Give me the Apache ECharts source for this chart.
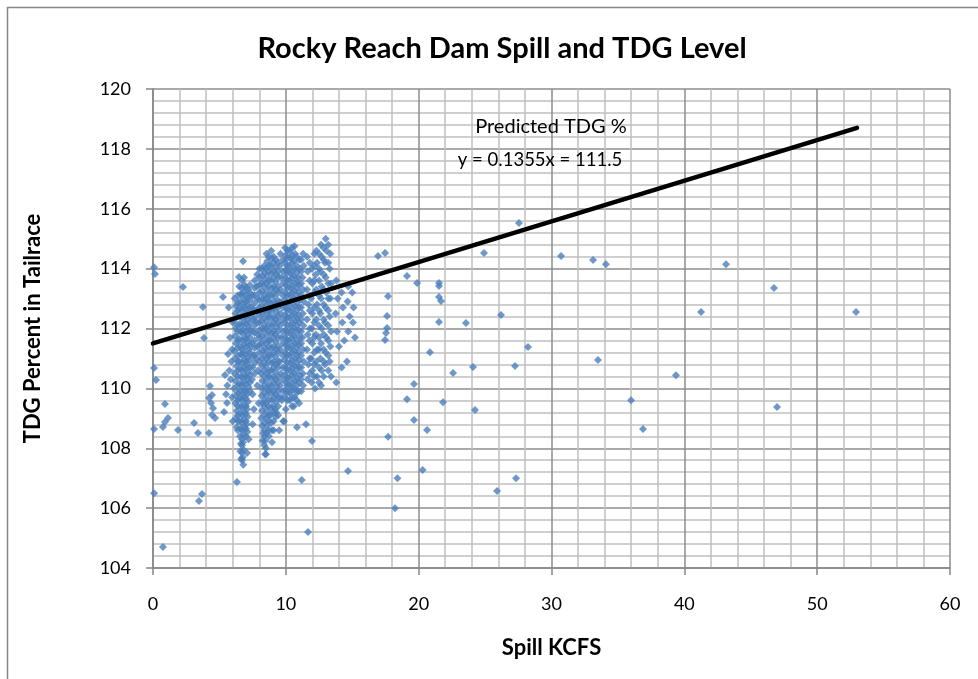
<!DOCTYPE html>
<html>
<head>
<meta charset="utf-8">
<script src="https://cdn.jsdelivr.net/npm/echarts@6/dist/echarts.min.js"></script>
<style>
html,body{margin:0;padding:0;background:#fff;}
#chart{width:978px;height:679px;}
</style>
</head>
<body>
<div id="chart"></div>
<script>
// ---- Data (Spill KCFS, TDG %) ----
const isolatedPoints = [
  [0.08,114.05],[0.15,113.82],[2.26,113.39],[3.76,112.72],[3.84,111.68],[5.27,113.05],[6.78,114.25],[6.47,113.72],[7.0,113.35],
  [0.08,110.68],[0.23,110.28],[0.9,109.48],[0.08,108.64],[0.75,108.71],[1.13,109.01],[0.9,108.88],[1.88,108.61],
  [3.09,108.84],[3.39,108.51],[4.22,108.51],[4.29,110.08],[4.44,109.78],[4.22,109.68],[4.37,109.51],[4.52,109.34],
  [4.44,109.11],[4.67,109.01],[5.42,110.45],[5.35,109.21],[5.57,109.51],[5.65,111.15],[6.32,106.87],[7.08,107.84],
  [0.08,106.5],[0.75,104.7],[3.69,106.47],[3.46,106.24],[11.2,106.94],[11.67,105.2],[14.68,107.24],
  [8.5,107.8],[8.96,108.2],[9.26,109.2],[9.5,108.6],[9.86,108.9],[10.84,108.7],[11.52,108.8],[11.97,108.24],
  [16.94,114.42],[17.47,114.52],[19.12,113.75],[19.88,113.52],[21.53,113.52],[21.53,113.42],[21.53,113.05],[21.68,112.92],
  [21.53,112.22],[23.56,112.18],[17.69,113.08],[17.62,112.42],[17.62,112.02],[17.54,111.85],[17.47,111.62],
  [20.85,111.21],[22.59,110.51],[24.09,110.71],[19.65,110.15],[19.12,109.64],[21.83,109.54],[24.24,109.28],
  [19.65,108.94],[20.63,108.61],[17.7,108.38],[20.3,107.27],[18.4,107.0],[18.22,106.0],
  [27.55,115.52],[24.92,114.52],[30.72,114.42],[33.13,114.29],[34.1,114.15],[43.14,114.15],[46.75,113.35],
  [41.26,112.55],[52.93,112.55],[26.2,112.45],[28.23,111.38],[33.5,110.95],[27.25,110.75],[39.37,110.44],
  [35.99,109.6],[36.89,108.64],[46.98,109.38],[27.33,107.0],[25.9,106.57]
];
const clusterNear7 = [
  [6.15,113.0],[6.25,112.75],[6.2,112.5],[6.1,112.25],[6.22,112.0],[6.18,111.75],[6.25,111.5],[6.12,111.25],[6.2,111.0],
  [6.28,110.75],[6.15,110.5],[6.22,110.25],[6.1,110.0],[6.25,109.75],[6.2,109.5],[6.3,109.25],[6.25,109.0],[6.3,108.7],
  [6.5,113.4],[6.6,113.15],[6.55,112.9],[6.5,112.65],[6.58,112.4],[6.52,112.15],[6.6,111.9],[6.5,111.65],[6.55,111.4],
  [6.62,111.15],[6.5,110.9],[6.56,110.65],[6.6,110.4],[6.52,110.15],[6.58,109.9],[6.5,109.65],[6.6,109.4],[6.55,109.15],
  [6.5,108.9],[6.6,108.65],[6.55,108.4],[6.62,108.15],[6.58,107.9],[6.65,107.65],
  [6.85,113.7],[6.9,113.45],[6.8,113.2],[6.88,112.95],[6.82,112.7],[6.9,112.45],[6.85,112.2],[6.8,111.95],[6.92,111.7],
  [6.85,111.45],[6.8,111.2],[6.88,110.95],[6.84,110.7],[6.9,110.45],[6.8,110.2],[6.86,109.95],[6.82,109.7],[6.9,109.45],
  [6.85,109.2],[6.8,108.95],[6.88,108.7],[6.82,108.45],[6.78,108.2],[6.82,107.95],[6.75,107.7],[6.8,107.45],
  [7.15,113.3],[7.2,113.05],[7.1,112.8],[7.18,112.55],[7.12,112.3],[7.2,112.05],[7.15,111.8],[7.1,111.55],[7.22,111.3],
  [7.15,111.05],[7.1,110.8],[7.18,110.55],[7.12,110.3],[7.2,110.05],[7.1,109.8],[7.15,109.55],[7.08,109.3],[7.12,109.05],
  [7.05,108.8],[7.1,108.55],[7.2,108.3],
  [5.9,110.9],[5.75,110.6],[5.85,110.3],[5.95,111.3],[5.8,111.7],[6.0,112.2],[5.95,109.7],[5.7,112.7],[6.0,108.9],
  [5.6,110.1],[5.5,109.8],
  [7.5,113.1],[7.45,112.7],[7.55,112.3],[7.5,111.9],[7.45,111.5],[7.55,111.1],[7.5,110.7],[7.45,110.3],[7.5,109.8],
  [7.6,109.3],[7.5,108.8],
  [7.85,113.8],[7.8,113.4],[7.9,113.0],[7.85,112.6],[7.8,112.2],[7.9,111.8],[7.85,111.4],[7.8,111.0],[7.9,110.6],
  [7.85,110.1],[7.95,109.5]
];
const clusterNear9 = [
  [8.2,114.0],[8.25,113.75],[8.15,113.5],[8.2,113.25],[8.28,113.0],[8.18,112.75],[8.22,112.5],[8.15,112.25],[8.25,112.0],
  [8.2,111.75],[8.15,111.5],[8.28,111.25],[8.2,111.0],[8.22,110.75],[8.15,110.5],[8.25,110.25],[8.2,110.0],[8.18,109.75],
  [8.25,109.5],[8.2,109.25],[8.15,109.0],[8.22,108.75],[8.3,108.5],[8.25,108.25],
  [8.55,114.5],[8.6,114.25],[8.5,114.0],[8.58,113.75],[8.52,113.5],[8.6,113.25],[8.55,113.0],[8.5,112.75],[8.62,112.5],
  [8.55,112.25],[8.5,112.0],[8.58,111.75],[8.52,111.5],[8.6,111.25],[8.55,111.0],[8.5,110.75],[8.58,110.5],[8.52,110.25],
  [8.6,110.0],[8.55,109.75],[8.5,109.5],[8.58,109.25],[8.52,109.0],[8.6,108.75],[8.55,108.5],[8.45,108.25],[8.5,108.0],
  [8.45,107.8],
  [8.9,114.6],[8.95,114.35],[8.85,114.1],[8.92,113.85],[8.88,113.6],[8.95,113.35],[8.9,113.1],[8.85,112.85],[8.92,112.6],
  [8.88,112.35],[8.95,112.1],[8.9,111.85],[8.85,111.6],[8.92,111.35],[8.88,111.1],[8.95,110.85],[8.9,110.6],[8.85,110.35],
  [8.92,110.1],[8.88,109.85],[8.95,109.6],[8.9,109.35],[8.85,109.1],[8.9,108.85],[8.95,108.6],
  [9.25,114.3],[9.2,114.05],[9.3,113.8],[9.22,113.55],[9.28,113.3],[9.2,113.05],[9.25,112.8],[9.3,112.55],[9.22,112.3],
  [9.28,112.05],[9.2,111.8],[9.25,111.55],[9.3,111.3],[9.22,111.05],[9.28,110.8],[9.2,110.55],[9.25,110.3],[9.3,110.05],
  [9.22,109.8],[9.28,109.55],[9.2,109.3],[9.25,109.05],
  [9.6,114.5],[9.55,114.1],[9.65,113.7],[9.6,113.3],[9.55,112.9],[9.62,112.5],[9.58,112.1],[9.65,111.7],[9.6,111.3],
  [9.55,110.9],[9.62,110.5],[9.58,110.1],[9.6,109.7],[9.7,109.6],[9.8,108.9],[10.0,109.3]
];
const clusterNear11 = [
  [9.95,114.7],[10.0,114.45],[9.9,114.2],[9.98,113.95],[9.92,113.7],[10.0,113.45],[9.95,113.2],[9.9,112.95],[10.02,112.7],
  [9.95,112.45],[9.9,112.2],[9.98,111.95],[9.92,111.7],[10.0,111.45],[9.95,111.2],[9.9,110.95],[9.98,110.7],[9.92,110.45],
  [10.0,110.2],[9.95,109.95],[9.9,109.7],
  [10.3,114.6],[10.35,114.35],[10.25,114.1],[10.32,113.85],[10.28,113.6],[10.35,113.35],[10.3,113.1],[10.25,112.85],
  [10.32,112.6],[10.28,112.35],[10.35,112.1],[10.3,111.85],[10.25,111.6],[10.32,111.35],[10.28,111.1],[10.35,110.85],
  [10.3,110.6],[10.25,110.35],[10.32,110.1],[10.28,109.85],[10.3,109.6],
  [10.65,114.75],[10.7,114.5],[10.6,114.25],[10.68,114.0],[10.62,113.75],[10.7,113.5],[10.65,113.25],[10.6,113.0],
  [10.68,112.75],[10.62,112.5],[10.7,112.25],[10.65,112.0],[10.6,111.75],[10.68,111.5],[10.62,111.25],[10.7,111.0],
  [10.65,110.75],[10.6,110.5],[10.68,110.25],[10.62,110.0],[10.65,109.7],[10.6,109.4],
  [11.0,114.3],[11.05,114.0],[10.95,113.7],[11.02,113.45],[10.98,113.2],[11.05,112.95],[11.0,112.7],[10.95,112.45],
  [11.02,112.2],[10.98,111.95],[11.05,111.7],[11.0,111.45],[10.95,111.2],[11.02,110.95],[10.98,110.7],[11.05,110.45],
  [11.0,110.2],[10.95,109.9],[11.0,109.5],
  [11.3,114.5],[11.35,114.1],[11.25,113.7],[11.3,113.3],[11.35,112.9],[11.28,112.5],[11.32,112.1],[11.25,111.7],
  [11.3,111.3],[11.35,110.9],[11.28,110.5],[11.3,110.1]
];
const clusterNear13 = [
  [11.6,114.4],[11.65,113.9],[11.6,113.3],[11.7,112.8],[11.6,112.3],[11.65,111.8],[11.6,111.3],[11.7,110.8],[11.65,110.3],
  [11.95,114.0],[12.0,113.5],[11.9,113.0],[12.0,112.5],[11.95,112.0],[12.0,111.5],[11.9,111.0],[12.0,110.6],[11.95,110.2],
  [12.3,114.6],[12.35,114.2],[12.25,113.8],[12.3,113.3],[12.35,112.8],[12.3,112.3],[12.25,111.8],[12.35,111.3],[12.3,110.9],
  [12.35,110.4],[12.2,110.0],
  [12.65,114.8],[12.7,114.4],[12.6,113.9],[12.7,113.4],[12.65,113.0],[12.6,112.5],[12.7,112.0],[12.65,111.5],[12.6,111.0],
  [12.7,110.6],[12.65,110.1],
  [13.0,115.0],[13.05,114.6],[12.95,114.2],[13.0,113.7],[13.05,113.2],[13.0,112.7],[12.95,112.2],[13.05,111.7],[13.0,111.2],
  [12.95,110.8],
  [13.35,114.5],[13.3,114.0],[13.4,113.5],[13.35,113.0],[13.3,112.4],[13.4,111.9],[13.35,111.4],[13.3,110.9],[13.4,110.4],
  [13.8,113.6],[13.9,113.0],[13.75,112.5],[13.85,111.9],[14.0,111.4],[14.2,113.2],[14.3,112.7],[14.25,112.2],[14.4,111.6],
  [14.7,113.4],[14.65,112.9],[14.8,112.4],[14.7,111.9],[15.0,113.2],[15.1,112.7],[15.05,112.2],[15.2,111.7],[14.6,110.9],
  [14.2,110.7],[13.8,110.2]
];
// densely packed readings inside the blob, listed per spill setting
const packedSpill = [6.38, 6.7, 7.0, 7.3, 7.65, 8.0, 8.38, 8.72, 9.08, 9.42, 9.78, 10.12, 10.47, 10.82, 11.15, 11.8, 12.15, 12.5, 12.85, 13.2];
const packedTdg = [
  [108.6,108.9,109.1,109.4,109.6,109.85,110.1,110.4,110.6,110.9,111.1,111.35,111.6,111.9,112.1,112.4,112.6,112.85,113.1],
  [107.6,107.85,108.1,108.3,108.6,108.85,109.1,109.35,109.6,109.8,110.1,110.35,110.6,110.85,111.1,111.3,111.6,111.85,112.1,112.35,112.6,112.8,113.1,113.35,113.6],
  [108.4,108.65,108.9,109.15,109.4,109.65,109.9,110.15,110.4,110.65,110.9,111.15,111.4,111.65,111.9,112.15,112.4,112.65,112.9,113.1],
  [109.9,110.2,110.45,110.7,110.95,111.2,111.45,111.7,111.95,112.2,112.45,112.7,112.95,113.2,113.45],
  [110.5,110.85,111.1,111.35,111.6,111.85,112.1,112.35,112.6,112.85,113.1,113.35,113.6],
  [110.9,111.2,111.45,111.7,111.95,112.2,112.45,112.7,112.95,113.2,113.45,113.7,114.0],
  [108.1,108.4,108.6,108.85,109.1,109.4,109.6,109.85,110.1,110.4,110.6,110.85,111.1,111.35,111.6,111.9,112.1,112.35,112.6,112.9,113.1,113.4,113.6,113.85,114.1],
  [108.4,108.6,108.9,109.1,109.4,109.6,109.9,110.1,110.4,110.6,110.9,111.1,111.4,111.6,111.9,112.1,112.4,112.6,112.9,113.1,113.4,113.6,113.9,114.1,114.4],
  [108.6,108.9,109.2,109.4,109.7,109.9,110.2,110.4,110.7,110.9,111.2,111.4,111.7,111.9,112.2,112.4,112.7,112.9,113.2,113.4,113.7,113.9,114.2,114.4],
  [109.1,109.4,109.7,109.9,110.2,110.4,110.7,110.9,111.2,111.4,111.7,111.9,112.2,112.4,112.7,112.9,113.2,113.4,113.7,113.9,114.2],
  [109.9,110.3,110.7,111.1,111.5,111.9,112.3,112.7,113.1,113.5,113.9,114.3],
  [109.6,109.85,110.1,110.35,110.6,110.85,111.1,111.35,111.6,111.85,112.1,112.35,112.6,112.85,113.1,113.35,113.6,113.85,114.1,114.35,114.6],
  [109.4,109.7,109.95,110.2,110.45,110.7,110.95,111.2,111.45,111.7,111.95,112.2,112.45,112.7,112.95,113.2,113.45,113.7,113.95,114.2,114.45,114.7],
  [109.6,109.85,110.1,110.35,110.6,110.85,111.1,111.35,111.6,111.85,112.1,112.35,112.6,112.85,113.1,113.35,113.6,113.85,114.1,114.4],
  [109.9,110.3,110.7,111.1,111.5,111.9,112.3,112.7,113.1,113.5,113.9,114.3],
  [110.5,111.0,111.6,112.0,112.6,113.1,113.6,114.2],
  [110.4,110.8,111.2,111.7,112.2,112.7,113.2,113.6,114.1,114.5],
  [110.2,110.7,111.3,111.7,112.1,112.6,113.1,113.6,114.0,114.5],
  [110.4,110.9,111.3,111.8,112.3,112.8,113.3,113.8,114.3,114.7],
  [110.6,111.1,111.6,112.1,112.6,113.0,113.5,114.2,114.8]
];
// Predicted TDG % trend line end points
const trendSpill = [0, 53];
const trendTdg = [111.5, 118.7];
const annotationLines = ['Predicted TDG %', 'y = 0.1355x = 111.5'];
const annotationSpill = [29.96, 29.14];
const annotationTdg = [118.73, 117.63];
const xTicks = [0, 60, 10];
const yTicks = [104, 120, 2];

const packedPoints = [];
packedSpill.forEach((x, i) => packedTdg[i].forEach(y => packedPoints.push([x, y])));
const allPoints = isolatedPoints.concat(clusterNear7, clusterNear9, clusterNear11, clusterNear13, packedPoints);
const trendData = trendSpill.map((x, i) => [x, trendTdg[i]]);

const FONT = 'Lato, "Open Sans", sans-serif';
const chart = echarts.init(document.getElementById('chart'), null, {renderer: 'canvas'});
const axisCommon = {
  axisLine: {show: true, lineStyle: {color: '#868686', width: 1.5}},
  axisTick: {show: true, inside: false, length: 7, lineStyle: {color: '#868686', width: 1.5}},
  splitLine: {show: true, lineStyle: {color: '#8c8c8c', width: 1.5}},
  minorTick: {show: false, splitNumber: 5},
  minorSplitLine: {show: true, lineStyle: {color: '#c0c0c0', width: 1.5}},
  axisLabel: {color: '#000', fontFamily: FONT, fontSize: 18}
};
chart.setOption({
  animation: false,
  backgroundColor: '#fff',
  title: {
    text: 'Rocky Reach Dam Spill and TDG Level',
    left: 497, top: 29, textAlign: 'center',
    textStyle: {fontFamily: FONT, fontWeight: 'bold', fontSize: 29, color: '#000'}
  },
  grid: {left: 153, right: 28, top: 89, bottom: 111, containLabel: false},
  xAxis: Object.assign({}, axisCommon, {
    type: 'value', min: xTicks[0], max: xTicks[1], interval: xTicks[2],
    name: 'Spill KCFS', nameLocation: 'middle', nameGap: 69,
    nameTextStyle: {fontFamily: FONT, fontWeight: 'bold', fontSize: 22, color: '#000'},
    axisLabel: Object.assign({}, axisCommon.axisLabel, {margin: 27})
  }),
  yAxis: Object.assign({}, axisCommon, {
    type: 'value', min: yTicks[0], max: yTicks[1], interval: yTicks[2],
    name: 'TDG Percent in Tailrace', nameLocation: 'middle', nameGap: 109, nameRotate: 90,
    nameTextStyle: {fontFamily: FONT, fontWeight: 'bold', fontSize: 22, color: '#000'},
    axisLabel: Object.assign({}, axisCommon.axisLabel, {margin: 22})
  }),
  series: [
    {
      type: 'scatter', name: 'TDG', data: allPoints,
      symbol: 'diamond', symbolSize: 8,
      itemStyle: {color: '#4a7ebb'}, z: 3
    },
    {
      type: 'line', name: 'Predicted TDG %', data: trendData,
      showSymbol: false, symbol: 'none',
      lineStyle: {color: '#000', width: 4.5, cap: 'round'}, z: 4,
      markPoint: {
        symbol: 'rect', symbolSize: 1,
        itemStyle: {color: 'rgba(0,0,0,0)'},
        label: {
          show: true, position: 'inside',
          fontFamily: FONT, fontSize: 20, color: '#000'
        },
        data: annotationLines.map((t, i) => ({
          coord: [annotationSpill[i], annotationTdg[i]],
          label: {formatter: t, fontSize: i === 0 ? 20 : 18.5}
        }))
      }
    }
  ],
  graphic: [{
    type: 'rect', left: 5, top: 5, silent: true,
    shape: {width: 1000, height: 1000},
    style: {fill: 'none', stroke: '#868686', lineWidth: 1.5}
  }]
});
</script>
</body>
</html>
